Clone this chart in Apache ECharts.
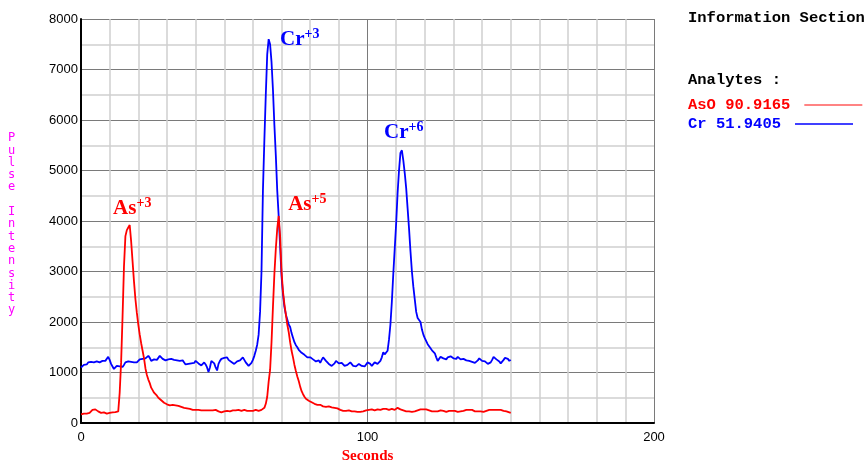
<!DOCTYPE html>
<html>
<head>
<meta charset="utf-8">
<script src="https://cdn.jsdelivr.net/npm/echarts@6/dist/echarts.min.js"></script>
<style>
  html, body { margin: 0; padding: 0; background: #fff; }
  #chart { width: 867px; height: 469px; }
</style>
</head>
<body>
<div id="chart"></div>
<script>
// sample spacing of the read-off traces, seconds
const step = 0.5;

// As trace, t = 0 .. 150 s
const asValues = [
  170,180,185,190,185,195,200,220,260,280,
  270,250,230,210,200,190,210,200,185,180,
  200,190,210,220,215,220,230,600,1200,2100,
  3100,3700,3820,3870,3920,3600,3200,2800,2450,2180,
  1950,1750,1580,1430,1280,1080,950,860,790,700,
  650,600,570,540,500,470,450,430,400,380,
  370,360,350,370,360,340,350,330,340,330,
  320,310,300,280,290,300,280,270,260,280,
  260,250,260,270,250,240,250,260,250,240,
  250,260,250,240,260,270,230,220,210,220,
  230,220,240,250,230,240,250,260,250,240,
  260,250,240,250,260,250,240,250,240,250,
  240,250,260,250,240,250,260,270,300,380,
  520,820,1050,1600,2300,2950,3450,3850,4100,3700,
  3000,2600,2350,2150,1950,1800,1600,1430,1300,1150,
  1030,920,830,720,630,570,520,480,460,440,
  420,410,400,380,370,360,350,360,340,330,
  330,320,310,330,300,310,290,300,280,290,
  280,260,250,240,230,240,230,250,240,230,
  220,230,210,220,230,220,240,230,240,250,
  250,260,250,270,260,250,260,270,280,260,
  270,280,290,280,270,260,270,280,270,260,
  290,300,280,270,260,250,240,230,240,230,
  230,220,240,230,230,250,260,270,280,270,
  280,270,260,250,240,230,240,230,240,230,
  240,250,260,240,230,220,230,240,230,240,
  250,240,230,220,210,230,250,240,250,260,
  250,260,250,260,240,230,220,230,240,230,
  230,220,230,240,250,260,250,260,270,260,
  270,260,250,260,250,240,250,230,220,210,
  200
];

// Cr trace, t = 0 .. 150 s
const crValues = [
  1100,1130,1150,1170,1160,1200,1230,1210,1180,1200,
  1200,1220,1230,1200,1210,1230,1220,1230,1260,1310,
  1250,1170,1120,1070,1090,1130,1150,1120,1100,1110,
  1150,1200,1190,1220,1230,1210,1180,1200,1220,1200,
  1230,1260,1240,1270,1300,1280,1310,1330,1290,1230,
  1240,1260,1270,1250,1290,1330,1300,1270,1290,1240,
  1230,1260,1250,1270,1240,1250,1230,1240,1260,1230,
  1260,1240,1200,1160,1140,1170,1200,1180,1170,1190,
  1230,1210,1180,1150,1140,1170,1200,1160,1100,1010,
  1100,1230,1260,1180,1100,1040,1170,1230,1270,1300,
  1290,1260,1300,1250,1230,1210,1180,1170,1200,1220,
  1190,1240,1270,1300,1280,1200,1170,1130,1150,1190,
  1250,1330,1430,1550,1750,2200,3000,4600,5600,6500,
  7300,7600,7500,7150,6600,5900,5300,4600,4100,3500,
  2900,2550,2300,2150,2050,1950,1900,1780,1690,1600,
  1540,1500,1450,1420,1390,1370,1350,1320,1300,1330,
  1300,1280,1260,1270,1220,1200,1240,1190,1250,1300,
  1270,1230,1200,1170,1150,1130,1140,1180,1230,1210,
  1180,1170,1190,1160,1130,1120,1150,1180,1200,1170,
  1130,1100,1120,1150,1170,1140,1130,1100,1120,1150,
  1200,1220,1170,1130,1160,1200,1190,1170,1180,1230,
  1300,1400,1360,1330,1430,1650,1950,2400,2950,3450,
  3950,4550,5000,5350,5400,5200,4950,4650,4250,3850,
  3400,3000,2700,2450,2200,2080,2050,2000,1850,1750,
  1680,1620,1560,1520,1480,1440,1420,1380,1300,1230,
  1250,1310,1320,1280,1270,1260,1300,1310,1320,1330,
  1280,1245,1270,1310,1290,1260,1250,1270,1260,1240,
  1250,1230,1220,1210,1200,1190,1210,1240,1280,1260,
  1230,1200,1220,1190,1170,1180,1200,1250,1310,1290,
  1260,1250,1220,1180,1200,1250,1290,1310,1270,1230,
  1250
];

const seriesNames = ['AsO 90.9165', 'Cr 51.9405'];
const xTicks = [0, 100, 200];
const yTicks = [0, 1000, 2000, 3000, 4000, 5000, 6000, 7000, 8000];

// peak labels: [name, superscript, seconds, intensity]
const asPeaks = [['As', '+3', 11.2, 4240], ['As', '+5', 72.3, 4320]];
const crPeaks = [['Cr', '+3', 69.5, 7590], ['Cr', '+6', 105.8, 5760]];

const toPairs = vals => vals.map((v, i) => [i * step, v]);

function peakMarks(list, color) {
  return {
    symbol: 'circle',
    symbolSize: 0,
    silent: true,
    label: {
      show: true,
      position: 'right',
      distance: 0,
      formatter: p => '{b|' + p.data.main + '}{s|' + p.data.sup + '}',
      rich: {
        b: { fontFamily: 'Liberation Serif', fontWeight: 'bold', fontSize: 21, color: color },
        s: { fontFamily: 'Liberation Serif', fontWeight: 'bold', fontSize: 14, color: color, verticalAlign: 'top', padding: [0, 0, 10, 0] }
      }
    },
    data: list.map(d => ({ coord: [d[2], d[3]], main: d[0], sup: d[1] }))
  };
}

const legendBase = {
  left: 688,
  padding: 0,
  orient: 'horizontal',
  align: 'right',
  itemWidth: 58,
  itemHeight: 1.5,
  icon: 'rect',
  selectedMode: false,
  textStyle: { fontFamily: 'Liberation Mono', fontWeight: 'bold', fontSize: 15.5, padding: [0, 9, 0, 0] }
};

const chart = echarts.init(document.getElementById('chart'));

const option = {
  backgroundColor: '#fff',
  animation: false,
  grid: { left: 81, right: 213, top: 19, bottom: 39 },
  legend: [
    Object.assign({}, legendBase, {
      top: 97,
      data: [{ name: seriesNames[0], textStyle: { color: '#ff0000' }, itemStyle: { color: '#ff5a5a' } }]
    }),
    Object.assign({}, legendBase, {
      top: 116,
      data: [{ name: seriesNames[1], textStyle: { color: '#0000ff' } }]
    })
  ],
  graphic: [
    {
      type: 'text', left: 688, top: 10,
      style: { text: 'Information Section', fill: '#000', font: 'bold 15.5px "Liberation Mono"' }
    },
    {
      type: 'text', left: 688, top: 72,
      style: { text: 'Analytes :', fill: '#000', font: 'bold 15.5px "Liberation Mono"' }
    },
    {
      type: 'text', left: 8, top: 132,
      style: {
        text: 'Pulse Intensity'.split('').join('\n'),
        fill: '#ff00ff', font: '12px "DejaVu Sans Mono"', lineHeight: 12.3, align: 'center'
      }
    }
  ],
  xAxis: {
    type: 'value',
    min: 0, max: 200, interval: 100,
    name: 'Seconds',
    nameLocation: 'middle',
    nameGap: 26,
    nameTextStyle: { fontFamily: 'Liberation Serif', fontWeight: 'bold', fontSize: 15, color: '#ff0000' },
    axisLine: { lineStyle: { color: '#000', width: 2 } },
    axisTick: { show: false },
    axisLabel: {
      color: '#000', fontFamily: 'Liberation Sans', fontSize: 13, margin: 8,
      customValues: xTicks, formatter: v => String(v)
    },
    splitLine: { show: true, lineStyle: { color: '#7a7a7a', width: 1 } },
    minorTick: { show: false, splitNumber: 10 },
    minorSplitLine: { show: true, lineStyle: { color: '#cfcfcf', width: 1.5 } }
  },
  yAxis: {
    type: 'value',
    min: 0, max: 8000, interval: 1000,
    axisLine: { show: true, lineStyle: { color: '#000', width: 2 } },
    axisTick: { show: false },
    axisLabel: {
      color: '#000', fontFamily: 'Liberation Sans', fontSize: 13, margin: 3,
      customValues: yTicks, formatter: v => String(v)
    },
    splitLine: { show: true, lineStyle: { color: '#7a7a7a', width: 1 } },
    minorTick: { show: false, splitNumber: 2 },
    minorSplitLine: { show: true, lineStyle: { color: '#cfcfcf', width: 1.5 } }
  },
  series: [
    {
      name: seriesNames[0],
      type: 'line',
      data: toPairs(asValues),
      showSymbol: false,
      lineStyle: { color: '#ff0000', width: 1.8 },
      itemStyle: { color: '#ff0000' },
      markPoint: peakMarks(asPeaks, '#ff0000'),
      z: 3
    },
    {
      name: seriesNames[1],
      type: 'line',
      data: toPairs(crValues),
      showSymbol: false,
      lineStyle: { color: '#0000ff', width: 1.8 },
      itemStyle: { color: '#0000ff' },
      markPoint: peakMarks(crPeaks, '#0000ff'),
      z: 2
    }
  ]
};

chart.setOption(option);
</script>
</body>
</html>
